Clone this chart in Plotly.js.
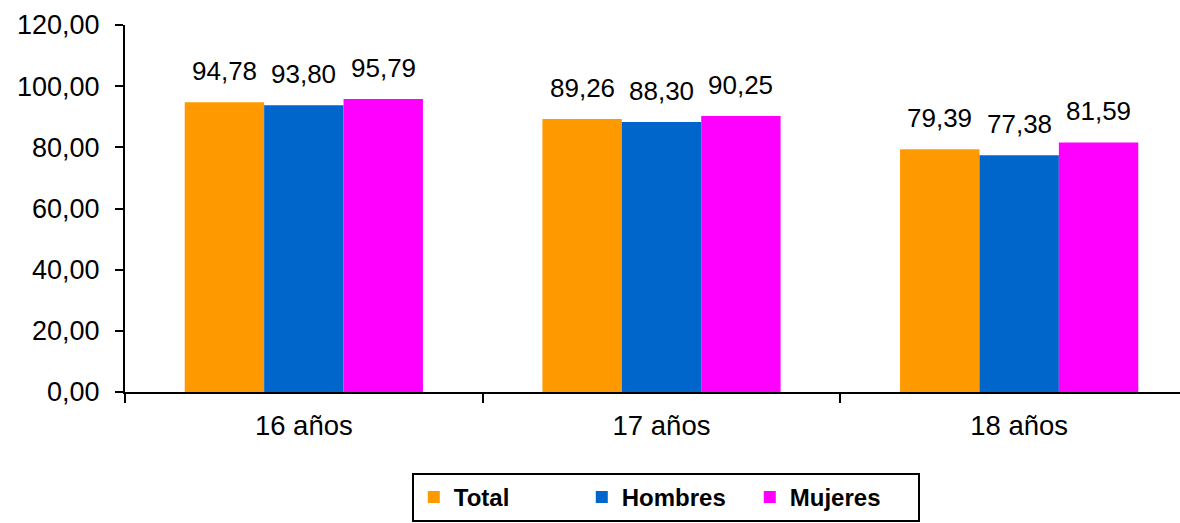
<!DOCTYPE html>
<html>
<head>
<meta charset="utf-8">
<script src="https://cdn.plot.ly/plotly-3.0.1.min.js"></script>
<style>
html, body { margin: 0; padding: 0; overflow: hidden; background: #fff; }
#chart { width: 1220px; height: 523px; }
</style>
</head>
<body>
<div id="chart"></div>
<script>
const categories = ['16 años', '17 años', '18 años'];
const seriesNames = ['Total', 'Hombres', 'Mujeres'];
const totalValues = [94.78, 89.26, 79.39];
const hombresValues = [93.80, 88.30, 77.38];
const mujeresValues = [95.79, 90.25, 81.59];
const yTickValues = [0, 20, 40, 60, 80, 100, 120];

const seriesValues = [totalValues, hombresValues, mujeresValues];
const colors = ['#FF9900', '#0066CC', '#FF00FF'];
const FONT = '"Liberation Sans", Arial, sans-serif';
const bargap = 0.334;
const barW = (1 - bargap) / 3;

const traces = seriesNames.map((name, j) => ({
  type: 'bar',
  name: name,
  x: categories,
  y: seriesValues[j],
  marker: { color: colors[j], line: { width: 0 } },
  hoverinfo: 'skip'
}));

const annotations = [];
seriesValues.forEach((vals, j) => {
  vals.forEach((v, i) => {
    annotations.push({
      xref: 'x', yref: 'y',
      x: i + (j - 1) * barW,
      y: v,
      text: v.toFixed(2).replace('.', ','),
      showarrow: false,
      yanchor: 'bottom',
      xanchor: 'center',
      yshift: 14,
      font: { family: FONT, size: 26, color: '#000' }
    });
  });
});

const layout = {
  width: 1220,
  height: 523,
  margin: { l: 125, r: 22, t: 25, b: 131, autoexpand: false },
  paper_bgcolor: '#fff',
  plot_bgcolor: '#fff',
  separators: ',.',
  barmode: 'group',
  bargap: bargap,
  bargroupgap: 0,
  font: { family: FONT, size: 27, color: '#000' },
  xaxis: {
    type: 'category',
    automargin: false,
    showline: true, linecolor: '#000', linewidth: 2,
    ticks: 'outside', tickson: 'boundaries', ticklen: 9, tickwidth: 2, tickcolor: '#000',
    showgrid: false, zeroline: false,
    ticklabelstandoff: 8,
    tickfont: { family: FONT, size: 27.5, color: '#000' }
  },
  yaxis: {
    range: [0, 120],
    automargin: false,
    tickvals: yTickValues,
    tickformat: '.2f',
    showline: true, linecolor: '#000', linewidth: 2,
    ticks: 'outside', ticklen: 8, tickwidth: 2, tickcolor: '#000',
    showgrid: false, zeroline: false,
    ticklabelstandoff: 10,
    tickfont: { family: FONT, size: 27, color: '#000' }
  },
  showlegend: true,
  legend: {
    orientation: 'h',
    x: 0.504, xanchor: 'center',
    y: -0.2207, yanchor: 'top',
    bordercolor: '#000', borderwidth: 2,
    bgcolor: '#fff',
    font: { family: FONT, size: 24, color: '#000', weight: 'bold' },
    itemwidth: 30,
    entrywidth: 123,
    entrywidthmode: 'pixels',
    traceorder: 'normal'
  },
  annotations: annotations
};

Plotly.newPlot('chart', traces, layout, { displayModeBar: false, staticPlot: true });
</script>
</body>
</html>
